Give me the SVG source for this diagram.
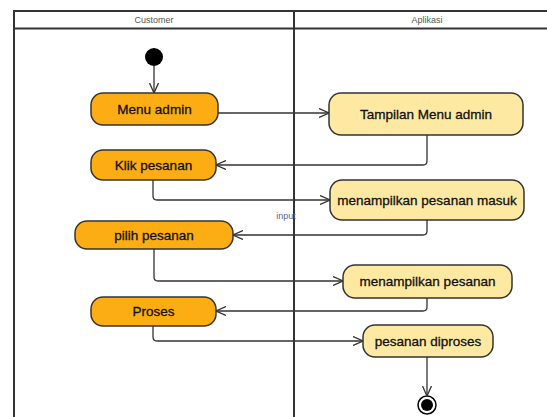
<svg xmlns="http://www.w3.org/2000/svg" width="547" height="417" viewBox="0 0 547 417">
<defs>
<marker id="arr" markerUnits="userSpaceOnUse" viewBox="0 0 10 10" refX="10" refY="5" markerWidth="10" markerHeight="10" orient="auto">
<path d="M0,0.5 L10,5 L0,9.5" fill="none" stroke="#333" stroke-width="1.3"/>
</marker>
</defs>
<style>
.lane{stroke:#333;stroke-width:2;fill:none}
.hdr{font-family:"Liberation Sans",Arial,sans-serif;font-size:9px;fill:#555;text-anchor:middle}
.a rect{fill:#FDAD14;stroke:#333;stroke-width:1.5}
.b rect{fill:#FEE9A2;stroke:#333;stroke-width:1.5}
.lbl{font-family:"Liberation Sans",Arial,sans-serif;font-size:13.5px;fill:#111;stroke:#111;stroke-width:0.3;text-anchor:middle;dominant-baseline:central}
.c path{fill:none;stroke:#333;stroke-width:1.3;marker-end:url(#arr)}
.note{font-family:"Liberation Sans",Arial,sans-serif;font-size:9px;fill:#5a6688;text-anchor:middle}
</style>
<rect width="547" height="417" fill="#fff"/>
<g id="lanes">
<path class="lane" d="M14,417 V11 H548 M14,28.5 H548 M294,11 V417"/>
<text class="hdr" x="154" y="23">Customer</text>
<text class="hdr" x="427" y="23">Aplikasi</text>
</g>
<g id="start"><circle cx="154" cy="57" r="9" fill="#000"/></g>
<g id="menu_admin" class="a"><rect x="91" y="93" width="127" height="32" rx="12"/><text class="lbl" x="154.5" y="109">Menu admin</text></g>
<g id="klik_pesanan" class="a"><rect x="91" y="150" width="125" height="30" rx="12"/><text class="lbl" x="153.5" y="165">Klik pesanan</text></g>
<g id="pilih_pesanan" class="a"><rect x="75" y="221" width="158" height="28" rx="12"/><text class="lbl" x="154" y="235">pilih pesanan</text></g>
<g id="proses" class="a"><rect x="91" y="297" width="125" height="29" rx="12"/><text class="lbl" x="153.5" y="311.5">Proses</text></g>
<g id="tampilan_menu_admin" class="b"><rect x="329" y="93" width="194" height="42" rx="12"/><text class="lbl" x="426" y="114">Tampilan Menu admin</text></g>
<g id="menampilkan_pesanan_masuk" class="b"><rect x="330" y="180" width="194" height="40" rx="12"/><text class="lbl" x="427" y="200">menampilkan pesanan masuk</text></g>
<g id="menampilkan_pesanan" class="b"><rect x="343" y="265" width="169" height="33" rx="12"/><text class="lbl" x="427.5" y="281.5">menampilkan pesanan</text></g>
<g id="pesanan_diproses" class="b"><rect x="363" y="325" width="130" height="32" rx="12"/><text class="lbl" x="428" y="341">pesanan diproses</text></g>
<g id="end"><circle cx="427" cy="405" r="9" fill="#fff" stroke="#000" stroke-width="1.5"/><circle cx="427" cy="405" r="6" fill="#000"/></g>
<g id="connectors" class="c">
<path d="M154,66 V93"/>
<path d="M218,113 H329"/>
<path d="M427,135 V161 Q427,165 423,165 H216"/>
<path d="M153,180 V196 Q153,200 157,200 H330"/>
<path d="M427,220 V231 Q427,235 423,235 H233"/>
<path d="M154,249 V277 Q154,281 158,281 H343"/>
<path d="M427,298 V307 Q427,311 423,311 H216"/>
<path d="M153,326 V337 Q153,341 157,341 H363"/>
<path d="M427,357 V396"/>
</g>
<text class="note" x="286" y="219">input</text>
</svg>
